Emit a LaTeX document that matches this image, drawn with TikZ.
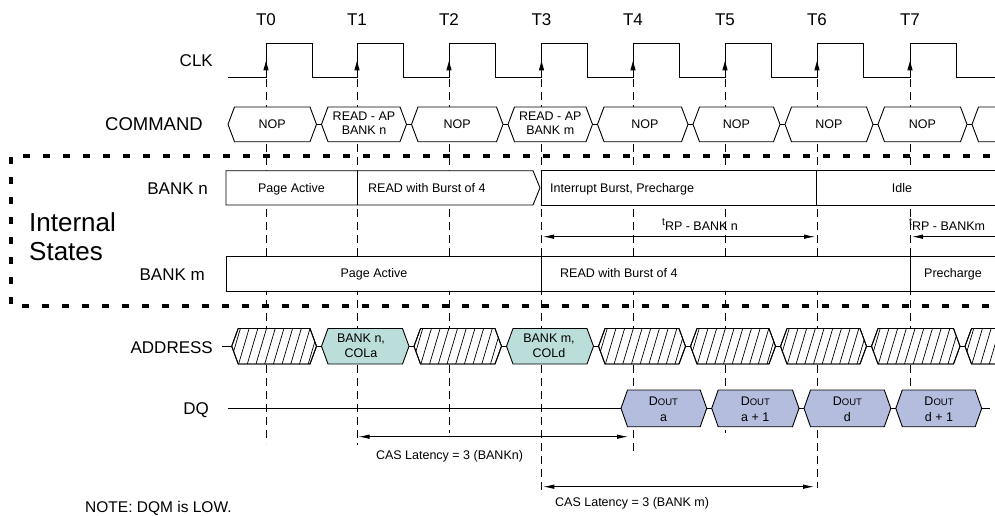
\documentclass[tikz,border=0pt]{standalone}
\usepackage{fontspec}
\setmainfont{Liberation Sans}
\usetikzlibrary{arrows.meta}
\definecolor{tealfill}{RGB}{188,222,218}
\definecolor{lavfill}{RGB}{181,189,223}
\newcommand\myfs[1]{\fontsize{#1}{#1}\selectfont}
\newcommand\hexp[4]{({#1+2.5},{(#3+#4)/2}) -- ({#1+9},#3) -- ({#2-9},#3) -- ({#2-2.5},{(#3+#4)/2}) -- ({#2-9},#4) -- ({#1+9},#4) -- cycle}
\newcommand\dout{{\myfs{12.5}D\myfs{9.5}OUT}}
\begin{document}
\begin{tikzpicture}[x=1pt,y=-1pt,
  sig/.style={line width=0.9pt},
  guide/.style={line width=0.75pt, dash pattern=on 8pt off 5pt},
  lbl/.style={font=\myfs{17}, anchor=east, inner sep=0pt, text height=12.2pt, text depth=0pt},
  txt/.style={font=\myfs{12.5}, inner sep=0pt, text height=9pt, text depth=0pt},
  hatch/.style={line width=0.7pt},
  dim/.style={line width=0.8pt, {Latex[length=11pt,width=4.5pt]}-{Latex[length=11pt,width=4.5pt]}},
  dimone/.style={line width=0.8pt, -{Latex[length=11pt,width=4.5pt]}},
  bigbox/.style={line width=4.5pt, dash pattern=on 7pt off 13pt}]
\useasboundingbox (0,0) rectangle (995,516);
\clip (0,0) rectangle (995,516);

% clock edge coordinates
\foreach \n/\x in {0/266,1/357,2/449,3/541.5,4/633,5/725,6/817,7/910}
  \coordinate (T\n) at (\x,0);

% guides
\foreach \x/\e in {266/443, 357/445, 449/433, 541.5/493, 633/455, 725/433, 817/488, 910/428}
  \draw[guide] (\x,79) -- (\x,\e);

% internal states dashed box
\draw[bigbox] (1010,156) -- (11,156) -- (11,306) -- (1010,306);

% clock
\draw[sig] (228,77.7) -- (266,77.7) |- (312,43) |- (357,77.7) |- (403,43) |- (449,77.7)
  |- (495,43) |- (541.5,77.7) |- (587.5,43) |- (633,77.7) |- (679,43) |- (725,77.7)
  |- (771,43) |- (817,77.7) |- (863,43) |- (910,77.7) |- (956,43) |- (1000,77.7);
\foreach \x in {266,357,449,541.5,633,725,817,910}
  \fill (\x,61) -- ({\x-2.7},70.5) -- ({\x+2.7},70.5) -- cycle;

% T labels
\foreach \n/\x in {0/266,1/357,2/449,3/541.5,4/633,5/725,6/817,7/910}
  \node[font=\myfs{17}, inner sep=0pt, text height=12.2pt, text depth=0pt] (lT\n) at (\x,19.5) {T\n};

% row labels
\node[lbl] (lclk) at (213,60) {CLK};
\node[lbl, font=\myfs{18.5}, text height=13.3pt] (lcmd) at (203,124.3) {COMMAND};
\node[lbl] (lbn) at (208,188) {BANK n};
\node[lbl] (lbm) at (205,274) {BANK m};
\node[lbl] (laddr) at (213,347) {ADDRESS};
\node[lbl] (ldq) at (209,408.5) {DQ};
\node[font=\myfs{26}, anchor=west, inner sep=0pt, text height=18.7pt, text depth=0pt] (lint) at (29,222) {Internal};
\node[font=\myfs{26}, anchor=west, inner sep=0pt, text height=18.7pt, text depth=0pt] (lsta) at (29,251) {States};

% COMMAND row
\foreach \a/\b in {225.5/319, 319/409, 409/505.5, 505.5/595, 595/690.5, 690.5/782.5, 782.5/875.5, 875.5/969.5, 969.5/1063}
  \filldraw[sig, fill=white] \hexp{\a}{\b}{107}{141.7};
\foreach \c in {319, 409, 505.5, 595, 690.5, 782.5, 875.5, 969.5}
  \draw[sig] ({\c-2.5},124.35) -- ({\c+2.5},124.35);
\node[txt] (cmd0) at (272.25,124.3) {NOP};
\node[txt] (cmd1a) at (364,116.5) {READ - AP};
\node[txt] (cmd1b) at (364,130) {BANK n};
\node[txt] (cmd2) at (457.25,124.3) {NOP};
\node[txt] (cmd3a) at (550.25,116.5) {READ - AP};
\node[txt] (cmd3b) at (550.25,130) {BANK m};
\node[txt] (cmd4) at (645,124.3) {NOP};
\node[txt] (cmd5) at (736.5,124.3) {NOP};
\node[txt] (cmd6) at (829,124.3) {NOP};
\node[txt] (cmd7) at (922.5,124.3) {NOP};

% internal states: BANK n
\filldraw[sig, fill=white] (226,170.7) -- (533,170.7) -- (540,187.85) -- (533,205) -- (226,205) -- cycle;
\filldraw[sig, fill=white] (541.5,170.7) rectangle (1000,205);
\draw[sig] (357.5,170.7) -- (357.5,205);
\draw[sig] (816.7,170.7) -- (816.7,205);
\node[txt] (bn1) at (291.5,187.5) {Page Active};
\node[txt, anchor=west] (bn2) at (368,187.5) {READ with Burst of 4};
\node[txt, anchor=west] (bn3) at (550,187.5) {Interrupt Burst, Precharge};
\node[txt] (bn4) at (902,187.5) {Idle};

% internal states: BANK m
\filldraw[sig, fill=white] (226,256) rectangle (1000,291.7);
\draw[sig] (541.5,256) -- (541.5,291.7);
\draw[sig] (910,256) -- (910,291.7);
\node[txt] (bm1) at (374,272.5) {Page Active};
\node[txt, anchor=west] (bm2) at (560,272.5) {READ with Burst of 4};
\node[txt] (bm3) at (953,272.5) {Precharge};

% tRP arrows
\coordinate (rpnL) at (543,236.7);
\coordinate (rpnR) at (815,236.7);
\draw[dim] (rpnL) -- (rpnR);
\node[txt] (rpn) at (700,225.5) {\raisebox{4.5pt}{\myfs{10.5}t}RP - BANK n};
\coordinate (rpmR) at (1005,236.7);
\coordinate (rpmL) at (912,236.7);
\draw[dimone] (rpmR) -- (rpmL);
\node[txt, anchor=west] (rpm) at (909,225.5) {\raisebox{4.5pt}{\myfs{10.5}t}RP - BANKm};

% ADDRESS row
\draw[sig] (222,346.25) -- (231.7,346.25);
\foreach \a/\b in {229.2/319, 411.5/504, 596/688, 688/778, 778/869, 869/962.5, 962.5/1055} {
  \filldraw[sig, fill=white] \hexp{\a}{\b}{328.5}{364};
  \begin{scope}
    \clip \hexp{\a}{\b}{328.5}{364};
    \foreach \i in {0,...,13}
      \draw[hatch] ({\a-8+8.7*\i},364) -- ({\a+2.5+8.7*\i},328.5);
  \end{scope}
  \draw[sig] \hexp{\a}{\b}{328.5}{364};
}
\foreach \a/\b in {319/411.5, 504/596}
  \filldraw[sig, fill=tealfill] \hexp{\a}{\b}{328.5}{364};
\foreach \c in {319, 411.5, 504, 596, 688, 778, 869, 962.5}
  \draw[sig] ({\c-2.5},346.25) -- ({\c+2.5},346.25);
\node[txt] (ad1a) at (361,338) {BANK n,};
\node[txt] (ad1b) at (361,353) {COLa};
\node[txt] (ad3a) at (549,338) {BANK m,};
\node[txt] (ad3b) at (549,353) {COLd};

% DQ row
\draw[sig] (228,408.35) -- (621,408.35);
\foreach \a/\b in {618.5/709.2, 709.2/801.5, 801.5/893.3, 893.3/984.2}
  \filldraw[sig, fill=lavfill] \hexp{\a}{\b}{390}{426.7};
\foreach \c in {709.2, 801.5, 893.3}
  \draw[sig] ({\c-2.5},408.35) -- ({\c+2.5},408.35);
\draw[sig] (981.7,408.35) -- (990,408.35);
\node[txt] (dq1a) at (663.5,400.5) {\dout};
\node[txt] (dq1b) at (663.5,417.2) {a};
\node[txt] (dq2a) at (755.3,400.5) {\dout};
\node[txt] (dq2b) at (755.3,417.2) {a + 1};
\node[txt] (dq3a) at (847.4,400.5) {\dout};
\node[txt] (dq3b) at (847.4,417.2) {d};
\node[txt] (dq4a) at (939,400.5) {\dout};
\node[txt] (dq4b) at (939,417.2) {d + 1};

% CAS latency arrows
\coordinate (casnL) at (358.5,436.7);
\coordinate (casnR) at (628,436.7);
\draw[dim] (casnL) -- (casnR);
\node[txt] (casn) at (449.5,455) {CAS Latency = 3 (BANKn)};
\coordinate (casmL) at (543.3,486.7);
\coordinate (casmR) at (814,486.7);
\draw[dim] (casmL) -- (casmR);
\node[txt, anchor=west] (casm) at (555,501.7) {CAS Latency = 3 (BANK m)};

% note
\node[font=\myfs{15.5}, anchor=west, inner sep=0pt, text height=11.1pt, text depth=0pt] (note) at (85,507) {NOTE: DQM is LOW.};
\end{tikzpicture}
\end{document}
